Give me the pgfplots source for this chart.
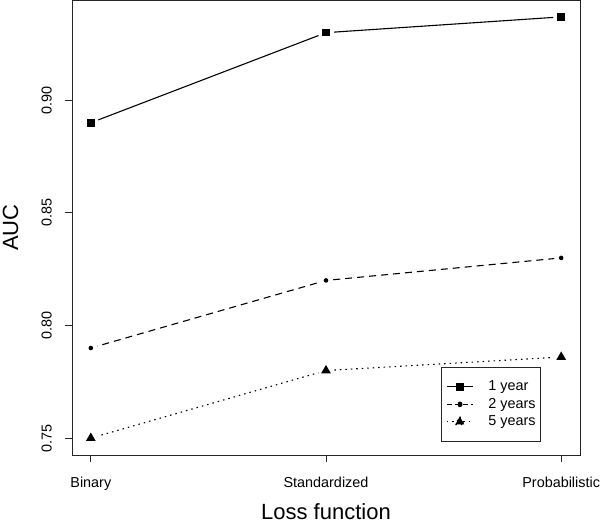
\documentclass[border=0pt]{standalone}
\usepackage{fontspec}
\setmainfont{Liberation Sans}
\usepackage{pgfplots}
\pgfplotsset{compat=1.18}
\pgfdeclareplotmark{gsq}{%
  \pgfpathcircle{\pgfpointorigin}{8bp}\pgfsetfillcolor{white}\pgfusepath{fill}%
  \pgfpathrectangle{\pgfpoint{-3.8bp}{-3.8bp}}{\pgfpoint{7.6bp}{7.6bp}}\pgfsetfillcolor{black}\pgfusepath{fill}}
\pgfdeclareplotmark{gdot}{%
  \pgfpathcircle{\pgfpointorigin}{7bp}\pgfsetfillcolor{white}\pgfusepath{fill}%
  \pgfpathcircle{\pgfpointorigin}{2.3bp}\pgfsetfillcolor{black}\pgfusepath{fill}}
\pgfdeclareplotmark{gtri}{%
  \pgfpathcircle{\pgfpointorigin}{8bp}\pgfsetfillcolor{white}\pgfusepath{fill}%
  \pgfpathmoveto{\pgfpoint{0bp}{5.6bp}}\pgfpathlineto{\pgfpoint{-4.85bp}{-2.8bp}}\pgfpathlineto{\pgfpoint{4.85bp}{-2.8bp}}\pgfpathclose
  \pgfsetfillcolor{black}\pgfusepath{fill}}
\begin{document}
\begin{tikzpicture}
\begin{axis}[
  name=ax,
  scale only axis,
  width=508bp, height=455bp,
  xmin=0.92, xmax=3.08, ymin=0.7425, ymax=0.9445,
  axis line style={line width=0.8bp, black!85},
  every tick/.style={black!85, line width=0.8bp},
  tick align=outside,
  major tick length=7bp,
  xtick pos=left, ytick pos=left,
  xtick={1,2,3},
  xticklabels={Binary,Standardized,Probabilistic},
  ytick={0.75,0.80,0.85,0.90},
  yticklabels={0.75,0.80,0.85,0.90},
  tick label style={font=\fontsize{14.4bp}{17bp}\selectfont, inner sep=0pt},
  xticklabel style={anchor=north, yshift=-15bp, text height=10.5bp},
  yticklabel style={rotate=90, anchor=south},
  yticklabel shift=13bp,
  xlabel={Loss function},
  ylabel={AUC},
  label style={font=\fontsize{22bp}{26bp}\selectfont, inner sep=0pt},
  xlabel style={at={(axis description cs:0.5,0)}, anchor=north, yshift=-48bp},
  ylabel style={at={(axis description cs:-0.1211,0.5)}, anchor=center},
  legend image code/.code={\draw[mark repeat=2,mark phase=2,#1] plot coordinates {(0bp,0bp) (13bp,0bp) (26bp,0bp)};},
  legend cell align=left,
  legend style={
    at={(axis description cs:1,0)}, anchor=south east, xshift=-39bp, yshift=13bp,
    draw=black!85, line width=0.8bp,
    font=\fontsize{14.4bp}{17bp}\selectfont,
    nodes={inner sep=0pt, text height=10.5bp, text depth=3bp},
    row sep=4bp, column sep=15bp,
    inner xsep=5bp, inner ysep=13bp,
  },
]
\addplot[black, line width=1.1bp, mark=gsq, legend image post style={mark=square*, mark size=3.6bp}]
  coordinates {(1,0.890) (2,0.930) (3,0.937)};
\addlegendentry{1 year}
\addplot[black, line width=1.1bp, dash pattern=on 7bp off 5bp, mark=gdot, legend image post style={mark=*, mark size=2.2bp, dash pattern=on 5bp off 3bp}]
  coordinates {(1,0.790) (2,0.820) (3,0.830)};
\addlegendentry{2 years}
\addplot[black, line width=1.1bp, dash pattern=on 1.5bp off 4bp, mark=gtri, legend image post style={mark=triangle*, mark size=5.2bp}]
  coordinates {(1,0.750) (2,0.780) (3,0.786)};
\addlegendentry{5 years}
\end{axis}
\pgfresetboundingbox
\path[use as bounding box] (ax.south west) ++(-72bp,-67bp) rectangle ++(600bp,522bp);
\end{tikzpicture}
\end{document}
